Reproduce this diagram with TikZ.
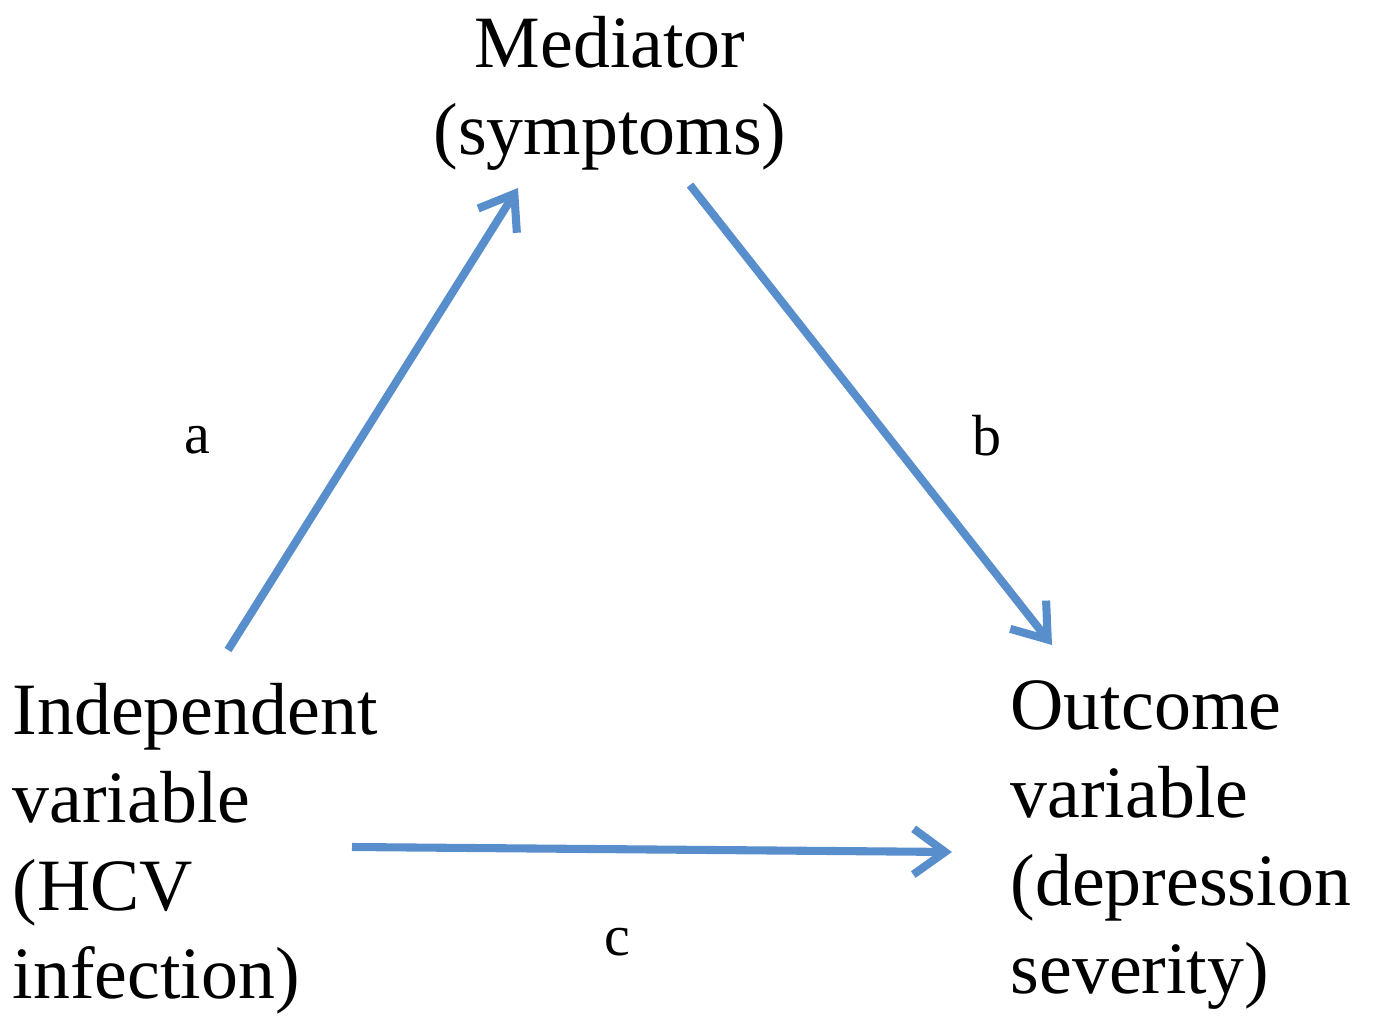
\documentclass[tikz,border=0pt]{standalone}
\usepackage{fontspec}
\setmainfont{Liberation Serif}
\usetikzlibrary{arrows.meta}
\definecolor{linkblue}{RGB}{88,142,204}

\begin{document}
\begin{tikzpicture}[
    label/.style={font=\fontsize{21}{25}\selectfont,inner sep=0pt},
    pathlabel/.style={font=\fontsize{16.5}{20}\selectfont,inner sep=0pt},
    link/.style={linkblue,line width=2.3pt,-{Straight Barb[length=9pt,width=13pt]}}]
    \useasboundingbox (0,0) rectangle (13.76,10.15);
    % the three variables (base = last line)
    \node[label,anchor=base,align=center] (med) at (6.10,8.60) {Mediator\\(symptoms)};
    \node[label,anchor=base west,align=left] (indep) at (0.12,0.17)
        {Independent\\variable\\(HCV\\infection)};
    \node[label,anchor=base west,align=left] (outc) at (10.10,0.22)
        {Outcome\\variable\\(depression\\severity)};
    % path labels
    \node[pathlabel,anchor=base] (la) at (1.97,5.62) {a};
    \node[pathlabel,anchor=base] (lb) at (9.87,5.60) {b};
    \node[pathlabel,anchor=base] (lc) at (6.17,0.60) {c};
    % arrow ends
    \coordinate (a0) at (2.28,3.65);
    \coordinate (a1) at (5.18,8.27);
    \coordinate (b0) at (6.90,8.30);
    \coordinate (b1) at (10.52,3.70);
    \coordinate (c0) at (3.52,1.68);
    \coordinate (c1) at (9.52,1.63);
    \draw[link] (a0) -- (a1);
    \draw[link] (b0) -- (b1);
    \draw[link] (c0) -- (c1);
\end{tikzpicture}
\end{document}
